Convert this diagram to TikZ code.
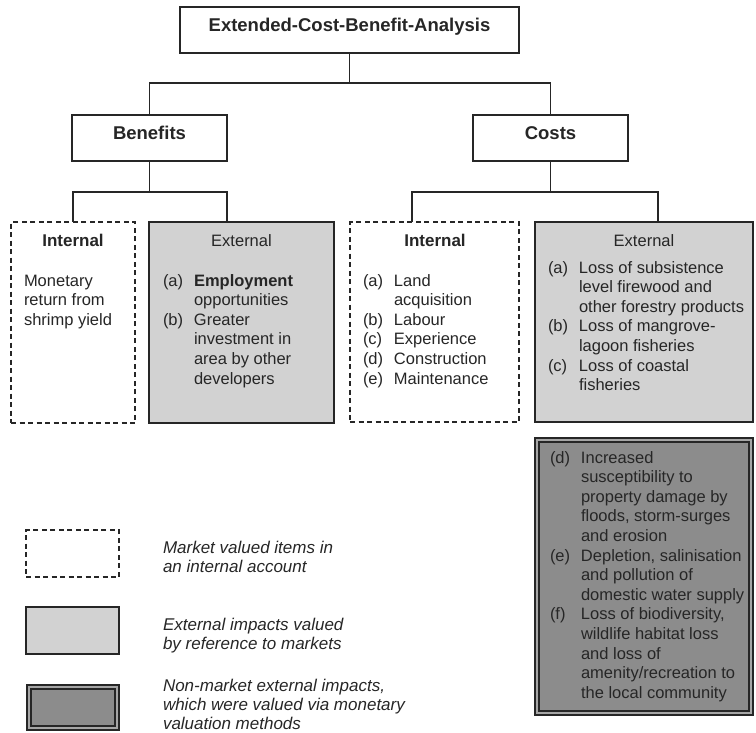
\documentclass[tikz,border=0pt]{standalone}
\usepackage{fontspec}
\setmainfont{Liberation Sans}
\usetikzlibrary{calc}
\definecolor{ink}{HTML}{262626}
\definecolor{lightfill}{HTML}{D2D2D2}
\definecolor{darkfill}{HTML}{8C8C8C}
\definecolor{band}{HTML}{A6A6A6}
\newcommand{\lst}[1]{\begin{tabular}[t]{@{}p{31pt}@{}l@{}}#1\end{tabular}}
\newcommand{\lns}[1]{\begin{tabular}[t]{@{}l@{}}#1\end{tabular}}
\begin{document}
\begin{tikzpicture}[x=1pt,y=-1pt,
  every node/.style={inner sep=0pt, outer sep=0pt, text=ink},
  plainbox/.style={draw=ink, line width=1.6pt, anchor=north west, fill=white},
  dashbox/.style={draw=ink, line width=1.8pt, dash pattern=on 5pt off 3.5pt, anchor=north west, fill=white},
  lightbox/.style={draw=ink, line width=2.2pt, anchor=north west, fill=lightfill},
  darkbox/.style={draw=ink, double=band, double distance=1.8pt, line width=2pt, anchor=north west, fill=darkfill},
  conn/.style={draw=ink, line width=1.5pt},
  body/.style={font=\fontsize{16.5}{19.6}\selectfont},
  bodyb/.style={font=\fontsize{17}{19.6}\selectfont\bfseries},
  head/.style={font=\fontsize{18.5}{21}\selectfont\bfseries},
  leg/.style={font=\fontsize{17}{19.2}\selectfont\itshape}
]
\useasboundingbox (0,0) rectangle (756,732);
% main boxes
\node[plainbox, minimum width=339pt, minimum height=46pt] (title) at (180,7) {};
\node[plainbox, minimum width=155pt, minimum height=46pt] (benefits) at (72,115) {};
\node[plainbox, minimum width=155pt, minimum height=46pt] (costs) at (473,115) {};
\node[dashbox, minimum width=124pt, minimum height=201pt] (bint) at (11,222) {};
\node[lightbox, minimum width=185pt, minimum height=201pt] (bext) at (149,222) {};
\node[dashbox, minimum width=169pt, minimum height=200pt] (cint) at (350,222) {};
\node[lightbox, minimum width=218pt, minimum height=200pt] (cext) at (535,222) {};
\node[darkbox, minimum width=214pt, minimum height=273pt] (cnon) at (537,440) {};
% legend boxes
\node[dashbox, minimum width=93pt, minimum height=47pt] (lg1) at (26,530) {};
\node[lightbox, minimum width=93pt, minimum height=47pt] (lg2) at (26,607) {};
\node[darkbox, minimum width=88pt, minimum height=41pt] (lg3) at (29,687) {};
% branch points
\coordinate (bextin) at (227,222);
\coordinate (cintin) at (412,222);
\coordinate (cextin) at (658,222);
% connectors
\draw[conn] (title.south) -- ++(0,30) -| (benefits.north);
\draw[conn] (title.south) -- ++(0,30) -| (costs.north);
\draw[conn] (benefits.south) -- ++(0,31) -| (bint.north);
\draw[conn] (benefits.south) -- ++(0,31) -| (bextin);
\draw[conn] (costs.south) -- ++(0,31) -| (cintin);
\draw[conn] (costs.south) -- ++(0,31) -| (cextin);
% titles
\node[head, anchor=base] (ttitle) at (349.5,31) {Extended-Cost-Benefit-Analysis};
\node[head, anchor=base] (tben) at (149.5,139) {Benefits};
\node[head, anchor=base] (tcos) at (550.5,139) {Costs};
% headers
\node[bodyb, anchor=base] (hbint) at (73,246) {Internal};
\node[body, anchor=base] (hbext) at (241.5,246) {External};
\node[bodyb, anchor=base] (hcint) at (435,246) {Internal};
\node[body, anchor=base] (hcext) at (644,246) {External};
% contents
\node[body, anchor=base west] (tbint) at (24,286) {\lns{Monetary\\return from\\shrimp yield}};
\node[body, anchor=base west] (tbext) at (163,286) {\lst{(a) & \textbf{Employment}\\ & opportunities\\ (b) & Greater\\ & investment in\\ & area by other\\ & developers}};
\node[body, anchor=base west] (tcint) at (363,286) {\lst{(a) & Land\\ & acquisition\\ (b) & Labour\\ (c) & Experience\\ (d) & Construction\\ (e) & Maintenance}};
\node[body, anchor=base west] (tcext) at (548,273) {\lst{(a) & Loss of subsistence\\ & level firewood and\\ & other forestry products\\ (b) & Loss of mangrove-\\ & lagoon fisheries\\ (c) & Loss of coastal\\ & fisheries}};
\node[body, anchor=base west] (tcnon) at (550,463) {\lst{(d) & Increased\\ & susceptibility to\\ & property damage by\\ & floods, storm-surges\\ & and erosion\\ (e) & Depletion, salinisation\\ & and pollution of\\ & domestic water supply\\ (f) & Loss of biodiversity,\\ & wildlife habitat loss\\ & and loss of\\ & amenity/recreation to\\ & the local community}};
% legend texts
\node[leg, anchor=base west] (tlg1) at (163,553) {\lns{Market valued items in\\an internal account}};
\node[leg, anchor=base west] (tlg2) at (163,630) {\lns{External impacts valued\\by reference to markets}};
\node[leg, anchor=base west] (tlg3) at (163,691) {\lns{Non-market external impacts,\\which were valued via monetary\\valuation methods}};
\end{tikzpicture}
\end{document}
